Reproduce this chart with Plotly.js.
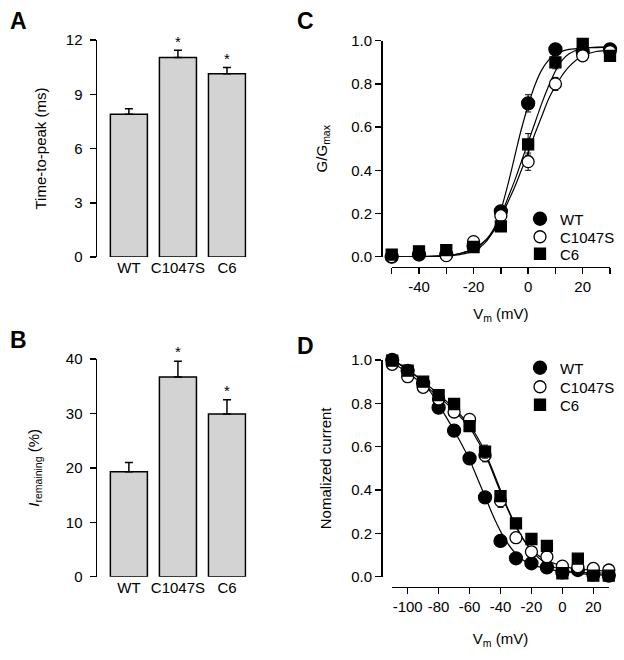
<!DOCTYPE html>
<html>
<head>
<meta charset="utf-8">
<script src="https://cdn.plot.ly/plotly-3.0.1.min.js"></script>
<style>html,body{margin:0;padding:0;background:#fff;}#chart{width:624px;height:660px;}</style>
</head>
<body>
<div id="chart"></div>
<script>
// ---- Panel A / B : bar data ----
const categories = ['WT', 'C1047S', 'C6'];
const timeToPeak = [7.9, 11.03, 10.13];
const timeToPeakErr = [0.3, 0.4, 0.35];
const remaining = [19.3, 36.7, 29.9];
const remainingErr = [1.7, 2.9, 2.6];
const sigLabels = ['', '*', '*'];

// ---- Panel C : activation (G/Gmax) ----
const actV = [-50, -40, -30, -20, -10, 0, 10, 20, 30];
const actWT = [0.0, 0.01, 0.01, 0.05, 0.21, 0.71, 0.96, 0.95, 0.96];
const actWTErr = [0.0, 0.0, 0.0, 0.01, 0.02, 0.04, 0.01, 0.01, 0.01];
const actC1047S = [0.0, -0.005, 0.005, 0.07, 0.19, 0.44, 0.80, 0.93, 0.95];
const actC1047SErr = [0.0, 0.0, 0.0, 0.01, 0.02, 0.04, 0.03, 0.02, 0.01];
const actC6 = [0.01, 0.025, 0.03, 0.045, 0.14, 0.52, 0.90, 0.985, 0.93];
const actC6Err = [0.0, 0.0, 0.0, 0.01, 0.01, 0.05, 0.03, 0.01, 0.01];
const actTickVals = [-40, -20, 0, 20];
const actTickText = ['-40', '-20', '0', '20'];
const actMinorVals = [-50, -30, -10, 10, 30];
// fitted curves
const actFitV = [-50, -40, -30, -25, -20, -17.5, -15, -12.5, -10, -7.5, -5, -2.5, 0, 2.5, 5, 7.5, 10, 12.5, 15, 20, 25, 30];
const actFitWT = [0.0, 0.0, 0.003, 0.01, 0.025, 0.045, 0.075, 0.13, 0.215, 0.33, 0.46, 0.59, 0.70, 0.795, 0.865, 0.91, 0.938, 0.952, 0.96, 0.966, 0.968, 0.97];
const actFitC1047S = [0.0, 0.0, 0.005, 0.015, 0.035, 0.055, 0.08, 0.12, 0.18, 0.25, 0.32, 0.40, 0.48, 0.57, 0.65, 0.73, 0.79, 0.84, 0.88, 0.93, 0.95, 0.955];
const actFitC6 = [0.0, 0.0, 0.005, 0.015, 0.035, 0.057, 0.085, 0.13, 0.19, 0.27, 0.35, 0.44, 0.53, 0.62, 0.71, 0.79, 0.86, 0.91, 0.94, 0.965, 0.97, 0.97];

// ---- Panel D : inactivation (normalized current) ----
const inaV = [-110, -100, -90, -80, -70, -60, -50, -40, -30, -20, -10, 0, 10, 20, 30];
const inaWT = [1.0, 0.95, 0.893, 0.78, 0.674, 0.546, 0.366, 0.165, 0.085, 0.062, 0.043, 0.02, 0.031, 0.01, 0.005];
const inaWTErr = [0.01, 0.01, 0.01, 0.01, 0.01, 0.01, 0.01, 0.01, 0.01, 0.01, 0.01, 0.01, 0.01, 0.01, 0.01];
const inaC1047S = [0.98, 0.923, 0.874, 0.82, 0.76, 0.726, 0.56, 0.35, 0.18, 0.115, 0.092, 0.049, 0.046, 0.038, 0.031];
const inaC1047SErr = [0.02, 0.02, 0.01, 0.01, 0.01, 0.02, 0.03, 0.03, 0.01, 0.01, 0.01, 0.01, 0.01, 0.01, 0.01];
const inaC6 = [0.997, 0.951, 0.9, 0.838, 0.797, 0.695, 0.577, 0.372, 0.246, 0.174, 0.142, 0.016, 0.083, 0.005, 0.005];
const inaC6Err = [0.01, 0.01, 0.01, 0.01, 0.01, 0.02, 0.03, 0.02, 0.01, 0.01, 0.01, 0.01, 0.01, 0.01, 0.01];
const inaTickVals = [-100, -80, -60, -40, -20, 0, 20];
const inaTickText = ['-100', '-80', '-60', '-40', '-20', '0', '20'];
const inaFitV = [-110, -105, -100, -95, -90, -85, -80, -75, -70, -65, -60, -55, -50, -45, -40, -35, -30, -25, -20, -15, -10, 0, 10, 20, 30];
const inaFitWT = [1.0, 0.98, 0.955, 0.93, 0.895, 0.85, 0.795, 0.735, 0.675, 0.61, 0.54, 0.455, 0.37, 0.285, 0.21, 0.15, 0.105, 0.075, 0.055, 0.045, 0.035, 0.025, 0.02, 0.018, 0.017];
const inaFitC1047S = [0.99, 0.965, 0.94, 0.915, 0.89, 0.86, 0.83, 0.80, 0.765, 0.73, 0.69, 0.63, 0.565, 0.48, 0.39, 0.305, 0.23, 0.17, 0.125, 0.095, 0.075, 0.05, 0.035, 0.03, 0.025];
const inaFitC6 = [1.0, 0.978, 0.955, 0.928, 0.9, 0.872, 0.84, 0.81, 0.775, 0.74, 0.70, 0.645, 0.575, 0.49, 0.40, 0.31, 0.235, 0.17, 0.12, 0.085, 0.06, 0.03, 0.015, 0.01, 0.008];

const W = 624, H = 660;
const px = v => v / W;
const py = v => 1 - v / H;
const FONT = 'Arial, "Liberation Sans", sans-serif';
const barFill = 'rgb(211,211,211)';

function barTrace(vals, errs, xa, ya) {
  return {
    type: 'bar', x: categories, y: vals, xaxis: xa, yaxis: ya, width: 0.755,
    marker: {color: barFill, line: {color: '#000', width: 1.5}},
    error_y: {type: 'data', array: errs, arrayminus: errs.map(() => 0), symmetric: false,
              color: '#000', thickness: 1.5, width: 4},
    showlegend: false, hoverinfo: 'skip'
  };
}
function starTrace(vals, errs, xa, ya) {
  const idx = sigLabels.map((s, i) => s ? i : -1).filter(i => i >= 0);
  return {
    type: 'scatter', mode: 'text', x: idx.map(i => categories[i]), y: idx.map(i => vals[i] + errs[i]),
    text: idx.map(i => sigLabels[i]), textposition: 'top center', textfont: {size: 15, color: '#000', family: FONT},
    xaxis: xa, yaxis: ya, showlegend: false, hoverinfo: 'skip', cliponaxis: false
  };
}
function pts(name, xs, ys, errs, symbol, fill, xa, ya, leg, size) {
  return {
    type: 'scatter', mode: 'markers', name: name, x: xs, y: ys, xaxis: xa, yaxis: ya,
    legend: leg, cliponaxis: false,
    marker: {symbol: symbol, size: size, color: fill, line: {color: '#000', width: 1.3}},
    error_y: {type: 'data', array: errs, color: '#000', thickness: 1, width: 3}
  };
}
function fit(xs, ys, xa, ya) {
  return {
    type: 'scatter', mode: 'lines', x: xs, y: ys, xaxis: xa, yaxis: ya,
    line: {color: '#000', width: 1.2, shape: 'spline'}, showlegend: false, hoverinfo: 'skip'
  };
}

const data = [
  barTrace(timeToPeak, timeToPeakErr, 'x', 'y'),
  starTrace(timeToPeak, timeToPeakErr, 'x', 'y'),
  barTrace(remaining, remainingErr, 'x2', 'y2'),
  starTrace(remaining, remainingErr, 'x2', 'y2'),
  fit(actFitV, actFitWT, 'x3', 'y3'),
  fit(actFitV, actFitC1047S, 'x3', 'y3'),
  fit(actFitV, actFitC6, 'x3', 'y3'),
  pts('WT', actV, actWT, actWTErr, 'circle', '#000', 'x3', 'y3', 'legend', 13),
  pts('C1047S', actV, actC1047S, actC1047SErr, 'circle', '#fff', 'x3', 'y3', 'legend2', 12),
  pts('C6', actV, actC6, actC6Err, 'square', '#000', 'x3', 'y3', 'legend3', 11),
  fit(inaFitV, inaFitWT, 'x4', 'y4'),
  fit(inaFitV, inaFitC1047S, 'x4', 'y4'),
  fit(inaFitV, inaFitC6, 'x4', 'y4'),
  pts('WT', inaV, inaWT, inaWTErr, 'circle', '#000', 'x4', 'y4', 'legend4', 13),
  pts('C1047S', inaV, inaC1047S, inaC1047SErr, 'circle', '#fff', 'x4', 'y4', 'legend5', 12),
  pts('C6', inaV, inaC6, inaC6Err, 'square', '#000', 'x4', 'y4', 'legend6', 11)
];

const tickFont = {size: 15, color: '#000', family: FONT};
const titleFont = {size: 15, color: '#000', family: FONT};
const yBase = {showline: true, linewidth: 1.5, linecolor: '#000', ticks: 'outside', ticklen: 6,
  tickwidth: 1.5, tickcolor: '#000', showgrid: false, zeroline: false, tickfont: tickFont, fixedrange: true};
const catX = {type: 'category', range: [-0.65, 2.4], showline: false, ticks: '', showgrid: false,
  zeroline: false, tickfont: tickFont, fixedrange: true};

function leg(rowY) {
  return {x: px(520), xanchor: 'left', y: py(rowY), yanchor: 'middle',
    font: {size: 15, color: '#000', family: FONT},
    bgcolor: 'rgba(0,0,0,0)', borderwidth: 0, itemsizing: 'trace'};
}

function panelLabel(t, x, y) {
  return {text: '<b>' + t + '</b>', x: px(x), y: py(y), xref: 'paper', yref: 'paper',
    xanchor: 'center', yanchor: 'middle', showarrow: false, font: {size: 23, family: FONT, color: '#000'}};
}

const layout = {
  width: W, height: H, margin: {l: 0, r: 0, t: 0, b: 0},
  paper_bgcolor: '#fff', plot_bgcolor: 'rgba(0,0,0,0)',
  font: {family: FONT, color: '#000'},
  showlegend: true,
  legend: leg(219), legend2: leg(237), legend3: leg(254),
  legend4: leg(368), legend5: leg(387), legend6: leg(405),
  bargap: 0,
  // Panel A
  xaxis: Object.assign({}, catX, {domain: [px(97), px(246.6)], anchor: 'y'}),
  yaxis: Object.assign({}, yBase, {domain: [py(257), py(40)], anchor: 'x', range: [0, 12],
    tickvals: [0, 3, 6, 9, 12], ticklabelstandoff: 4,
    title: {text: 'Time-to-peak (ms)', font: titleFont, standoff: 15}}),
  // Panel B
  xaxis2: Object.assign({}, catX, {domain: [px(97), px(246.6)], anchor: 'y2'}),
  yaxis2: Object.assign({}, yBase, {domain: [py(576.7), py(359)], anchor: 'x2', range: [0, 40],
    tickvals: [0, 10, 20, 30, 40], ticklabelstandoff: 4,
    title: {text: '<i>I</i><sub>remaining</sub> (%)', font: titleFont, standoff: 22}}),
  // Panel C
  xaxis3: Object.assign({}, yBase, {domain: [px(391.7), px(610)], anchor: 'free', position: py(266.7),
    range: [-50, 30], tickvals: actTickVals, ticktext: actTickText, tickangle: 0,
    minor: {tickvals: actMinorVals, ticks: 'outside', ticklen: 6, tickwidth: 1.5, tickcolor: '#000', showgrid: false},
    title: {text: 'V<sub>m</sub> (mV)', font: titleFont, standoff: 14}}),
  yaxis3: Object.assign({}, yBase, {domain: [py(256.7), py(40.7)], anchor: 'free', position: px(381),
    range: [0, 1], tickvals: [0, 0.2, 0.4, 0.6, 0.8, 1.0], tickformat: '.1f',
    title: {text: 'G/G<sub>max</sub>', font: titleFont, standoff: 18}}),
  // Panel D
  xaxis4: Object.assign({}, yBase, {domain: [px(392.2), px(608.8)], anchor: 'free', position: py(586.7),
    range: [-110, 30], tickvals: inaTickVals, ticktext: inaTickText, tickangle: 0,
    title: {text: 'V<sub>m</sub> (mV)', font: titleFont, standoff: 19}}),
  yaxis4: Object.assign({}, yBase, {domain: [py(576.7), py(360)], anchor: 'free', position: px(381),
    range: [0, 1], tickvals: [0, 0.2, 0.4, 0.6, 0.8, 1.0], tickformat: '.1f',
    title: {text: 'Nomalized current', font: titleFont, standoff: 14}}),
  annotations: [
    panelLabel('A', 18, 21),
    panelLabel('B', 18, 340),
    panelLabel('C', 305, 21),
    panelLabel('D', 305, 346)
  ]
};

Plotly.newPlot('chart', data, layout, {staticPlot: true, displayModeBar: false});
</script>
</body>
</html>
